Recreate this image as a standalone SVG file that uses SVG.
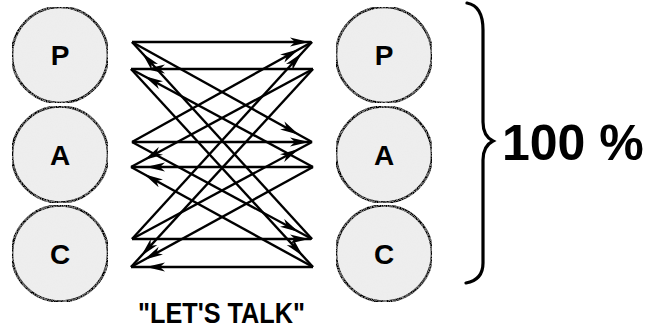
<svg xmlns="http://www.w3.org/2000/svg" width="664" height="328" viewBox="0 0 664 328">
<defs>
<filter id="grain" x="0" y="0" width="100%" height="100%">
<feTurbulence type="fractalNoise" baseFrequency="0.8" numOctaves="2" seed="3" result="n"/>
<feColorMatrix in="n" type="matrix" values="0 0 0 0 0.82  0 0 0 0 0.82  0 0 0 0 0.82  0 0 0 -0.9 0.55" result="g"/>
<feComposite in="g" in2="SourceGraphic" operator="in" result="gi"/>
<feMerge><feMergeNode in="SourceGraphic"/><feMergeNode in="gi"/></feMerge>
</filter>
<marker id="ah" viewBox="0 0 22 10" refX="21" refY="5" markerWidth="22" markerHeight="10" markerUnits="userSpaceOnUse" orient="auto">
<path d="M0,0.5 L19,5 L0,9.5 L5,5 Z" fill="#000"/>
</marker>
<marker id="ahb" viewBox="0 0 34 10" refX="34" refY="5" markerWidth="34" markerHeight="10" markerUnits="userSpaceOnUse" orient="auto">
<path d="M0,0.5 L19,5 L0,9.5 L5,5 Z" fill="#000"/>
</marker>
</defs>
<style>
.node circle{fill:#eeeeee;stroke:#000;stroke-width:2.6}
.lbl{font-family:"Liberation Sans",Arial,sans-serif;font-weight:bold;font-size:28px;text-anchor:middle;fill:#000}
#connectors line{stroke:#000;stroke-width:2.4;marker-end:url(#ahb)}
#connectors line.h{marker-end:url(#ah)}
.big{font-family:"Liberation Sans",Arial,sans-serif;font-weight:bold;fill:#000}
</style>
<g id="left-P" class="node"><circle cx="60" cy="55" r="48" filter="url(#grain)"/><text class="lbl" x="60" y="65">P</text></g>
<g id="left-A" class="node"><circle cx="60" cy="154.5" r="48" filter="url(#grain)"/><text class="lbl" x="60" y="164.5">A</text></g>
<g id="left-C" class="node"><circle cx="60" cy="253.5" r="48" filter="url(#grain)"/><text class="lbl" x="60" y="264">C</text></g>
<g id="right-P" class="node"><circle cx="384" cy="55" r="48" filter="url(#grain)"/><text class="lbl" x="384" y="65">P</text></g>
<g id="right-A" class="node"><circle cx="384" cy="154.5" r="48" filter="url(#grain)"/><text class="lbl" x="384" y="164.5">A</text></g>
<g id="right-C" class="node"><circle cx="384" cy="253.5" r="48" filter="url(#grain)"/><text class="lbl" x="384" y="264">C</text></g>
<g id="connectors">
<line class="h" x1="132" y1="42" x2="311" y2="42"/>
<line x1="132" y1="42" x2="312" y2="142"/>
<line x1="312" y1="239" x2="132" y2="42"/>
<line x1="132" y1="142" x2="312" y2="42"/>
<line class="h" x1="132" y1="142" x2="311" y2="142"/>
<line x1="132" y1="142" x2="312" y2="239"/>
<line x1="132" y1="239" x2="312" y2="42"/>
<line x1="132" y1="239" x2="312" y2="142"/>
<line class="h" x1="132" y1="239" x2="311" y2="239"/>
<line x1="313" y1="69" x2="131" y2="69"/>
<line x1="313" y1="69" x2="131" y2="167"/>
<line x1="313" y1="69" x2="131" y2="267"/>
<line x1="313" y1="167" x2="131" y2="69"/>
<line x1="313" y1="167" x2="131" y2="167"/>
<line x1="313" y1="167" x2="131" y2="267"/>
<line x1="131" y1="69" x2="313" y2="267"/>
<line x1="313" y1="267" x2="131" y2="167"/>
<line x1="313" y1="267" x2="131" y2="267"/>
</g>
<g id="brace">
<path d="M467,3 C478,5 483,14 483,30 L483,122 C483,133 487,138 493,141 C487,144 483,149 483,160 L483,263 C483,275 477,281 466,283" fill="none" stroke="#000" stroke-width="3.2" stroke-linecap="round"/>
</g>
<g id="total"><text class="big" x="502" y="160" font-size="50">100 %</text></g>
<g id="caption"><text class="big" x="138" y="323" font-size="30" textLength="167" lengthAdjust="spacingAndGlyphs">"LET'S TALK"</text></g>
</svg>
